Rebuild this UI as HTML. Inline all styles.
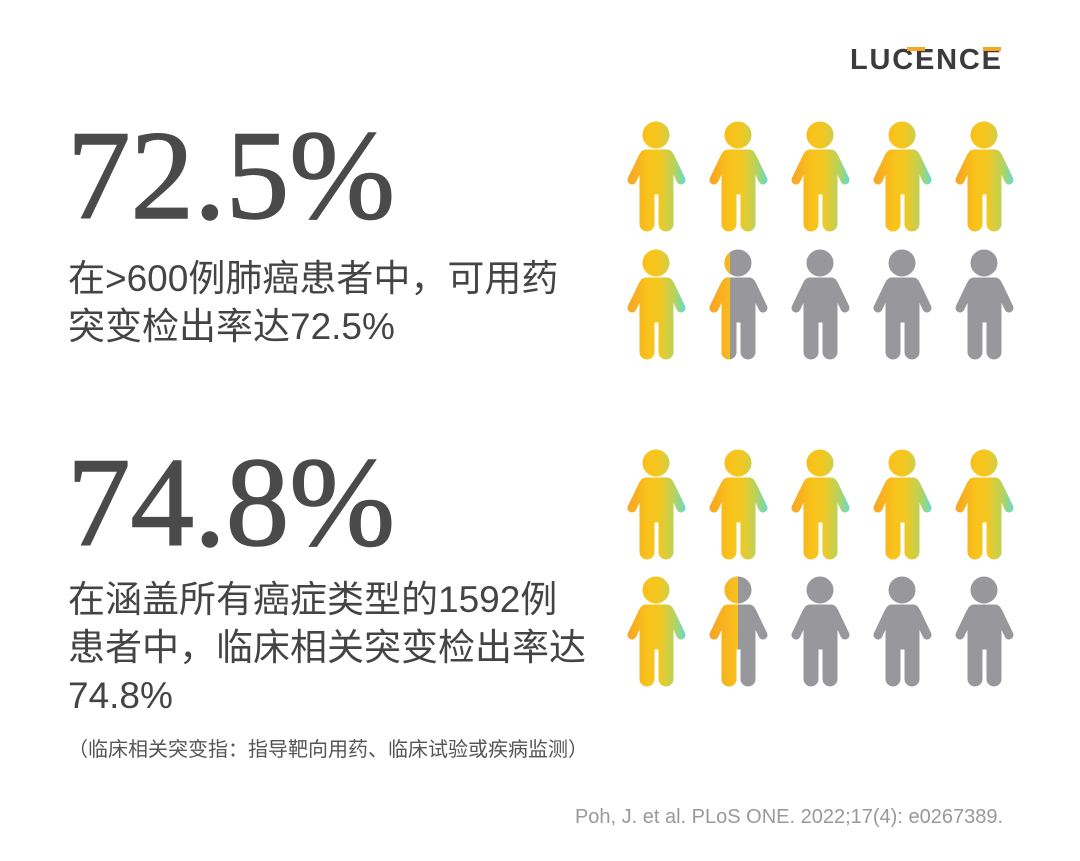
<!DOCTYPE html>
<html><head><meta charset="utf-8"><style>
body{margin:0;width:1080px;height:861px;background:#fff;position:relative;overflow:hidden;font-family:"Liberation Sans","Noto Sans CJK SC",sans-serif;color:#444}
.big{position:absolute;left:67px;font-family:"Liberation Serif",serif;font-size:127px;line-height:1;color:#4a4a4a;-webkit-text-stroke:1.5px #4a4a4a}
.t{position:absolute;left:68px;font-size:37px;line-height:48px;color:#444;font-family:"Liberation Sans","Noto Sans CJK SC",sans-serif}
svg{position:absolute;left:0;top:0}
</style></head><body>
<div style="position:absolute;left:850px;top:44px;font-size:29px;font-weight:bold;letter-spacing:1.8px;color:#3b3b3d">LUCENCE</div>
<div style="position:absolute;left:907px;top:47px;width:18px;height:4px;background:#f5a623"></div>
<div style="position:absolute;left:983px;top:47px;width:18px;height:4px;background:#f5a623"></div>
<div class="big" style="top:113px">72.5%</div>
<div class="t" style="top:255px">在&gt;600例肺癌患者中，可用药<br>突变检出率达72.5%</div>
<div class="big" style="top:440px">74.8%</div>
<div class="t" style="top:576px">在涵盖所有癌症类型的1592例<br>患者中，临床相关突变检出率达<br>74.8%</div>
<div style="position:absolute;left:68px;top:733px;font-size:20px;color:#555">（临床相关突变指：指导靶向用药、临床试验或疾病监测）</div>
<div style="position:absolute;right:77px;top:806px;font-size:20px;color:#999">Poh, J. et al. PLoS ONE. 2022;17(4): e0267389.</div>
<svg width="1080" height="861">
<defs>
<linearGradient id="g" gradientUnits="userSpaceOnUse" x1="0" y1="0" x2="59" y2="0"><stop offset="0" stop-color="#f7a324"/><stop offset="0.35" stop-color="#f9c31b"/><stop offset="0.55" stop-color="#f2c722"/><stop offset="0.8" stop-color="#b9d35a"/><stop offset="1" stop-color="#5fdcd0"/></linearGradient>
<linearGradient id="o" gradientUnits="userSpaceOnUse" x1="0" y1="0" x2="30" y2="0"><stop offset="0" stop-color="#f7a324"/><stop offset="1" stop-color="#f9c31b"/></linearGradient>
<g id="p">
<circle cx="29" cy="13" r="13"/>
<rect x="13" y="28" width="33" height="44" rx="6"/>
<line x1="16" y1="35" x2="5" y2="58" stroke-width="9" stroke-linecap="round"/>
<line x1="43" y1="35" x2="54" y2="58" stroke-width="9" stroke-linecap="round"/>
<rect x="13" y="60" width="14" height="49" rx="7"/>
<rect x="32" y="60" width="14" height="49" rx="7"/>
</g>
<clipPath id="c1"><rect x="0" y="0" width="21" height="120"/></clipPath>
<clipPath id="c2"><rect x="0" y="0" width="29" height="120"/></clipPath>
</defs>
<g fill="url(#g)" stroke="url(#g)">
<use href="#p" x="627" y="122"/><use href="#p" x="709" y="122"/><use href="#p" x="791" y="122"/><use href="#p" x="873" y="122"/><use href="#p" x="955" y="122"/>
<use href="#p" x="627" y="250"/>
<use href="#p" x="627" y="450"/><use href="#p" x="709" y="450"/><use href="#p" x="791" y="450"/><use href="#p" x="873" y="450"/><use href="#p" x="955" y="450"/>
<use href="#p" x="627" y="577"/>
</g>
<g fill="#98989c" stroke="#98989c">
<use href="#p" x="709" y="250"/><use href="#p" x="791" y="250"/><use href="#p" x="873" y="250"/><use href="#p" x="955" y="250"/>
<use href="#p" x="709" y="577"/><use href="#p" x="791" y="577"/><use href="#p" x="873" y="577"/><use href="#p" x="955" y="577"/>
</g>
<g fill="url(#o)" stroke="url(#o)">
<g transform="translate(709,250)" clip-path="url(#c1)"><use href="#p"/></g>
<g transform="translate(709,577)" clip-path="url(#c2)"><use href="#p"/></g>
</g>
</svg>
</body></html>
